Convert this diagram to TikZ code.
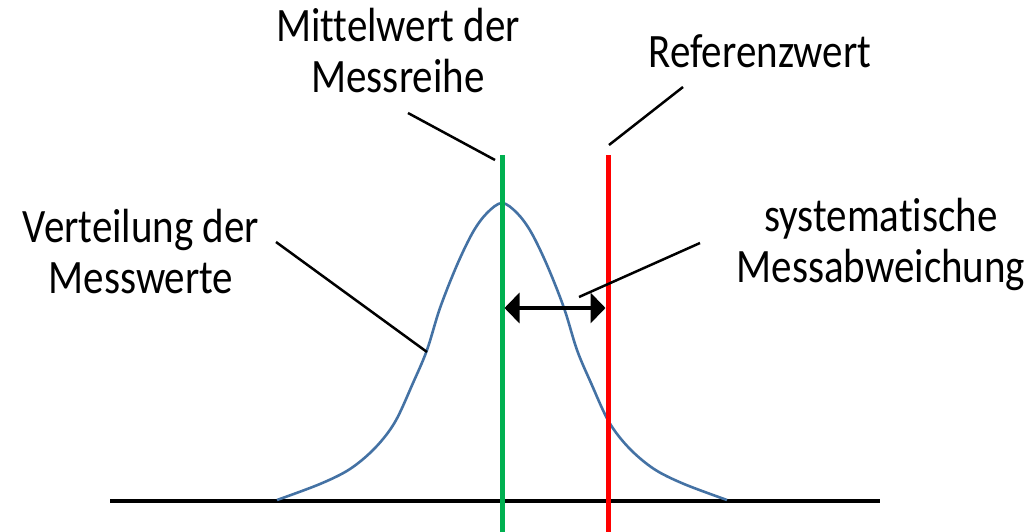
\documentclass[tikz,border=0pt]{standalone}
\usepackage{fontspec}
\setmainfont[Ligatures=NoCommon]{Carlito}
\usepackage{graphicx}
\usetikzlibrary{arrows.meta}
\definecolor{mgreen}{RGB}{0,176,80}
\definecolor{mred}{RGB}{255,0,0}
\definecolor{mblue}{RGB}{68,114,164}
\newcommand{\lbltext}[1]{\scalebox{1}[1.17]{\fontsize{41}{43}\selectfont\begin{tabular}{@{}c@{}}#1\end{tabular}}}
\begin{document}
\begin{tikzpicture}[x=1pt,y=-1pt,
  lbl/.style={inner sep=0pt},
  leader/.style={draw=black,line width=2.5pt},
  vline/.style={line width=5pt}]
\useasboundingbox (0,0) rectangle (1032,532);
% baseline
\draw[line width=4pt] (110,501) -- (880,501);
% distribution curve
\draw[mblue,line width=2.6pt] plot[smooth,tension=0.55] coordinates {
 (277,500) (320,484) (350,469) (375,448) (395,422) (413,383) (427,350) (440,308) (457,265) (473,232) (487,213) (502,203)
 (517,213) (531,232) (547,265) (564,308) (577,350) (591,383) (609,422) (629,448) (654,469) (684,484) (727,500)};
% vertical lines
\coordinate (gtop) at (502,155);
\coordinate (gbot) at (502,532);
\coordinate (rtop) at (608,155);
\coordinate (rbot) at (608,532);
\draw[mgreen,vline] (gtop) -- (gbot);
\draw[mred,vline] (rtop) -- (rbot);
% arrow
\coordinate (al) at (504.5,308);
\coordinate (ar) at (605.5,308);
\draw[line width=4pt,{Triangle[length=15pt,width=30pt]}-{Triangle[length=15pt,width=30pt]}] (al) -- (ar);
% labels
\node[lbl] (mw) at (398,57) {\lbltext{Mittelwert der\\Messreihe}};
\node[lbl] (rw) at (760,57) {\lbltext{Referenzwert}};
\node[lbl] (vm) at (141,258) {\lbltext{Verteilung der\\Messwerte}};
\node[lbl] (sm) at (881,247) {\lbltext{systematische\\Messabweichung}};
% leader lines
\coordinate (mw1) at (408,113); \coordinate (mw2) at (495,160);
\coordinate (rw1) at (683,87);  \coordinate (rw2) at (609,145);
\coordinate (vm1) at (276,242); \coordinate (vm2) at (427,352);
\coordinate (sm1) at (700,243); \coordinate (sm2) at (579,297);
\draw[leader] (mw1) -- (mw2);
\draw[leader] (rw1) -- (rw2);
\draw[leader] (vm1) -- (vm2);
\draw[leader] (sm1) -- (sm2);
\end{tikzpicture}
\end{document}
